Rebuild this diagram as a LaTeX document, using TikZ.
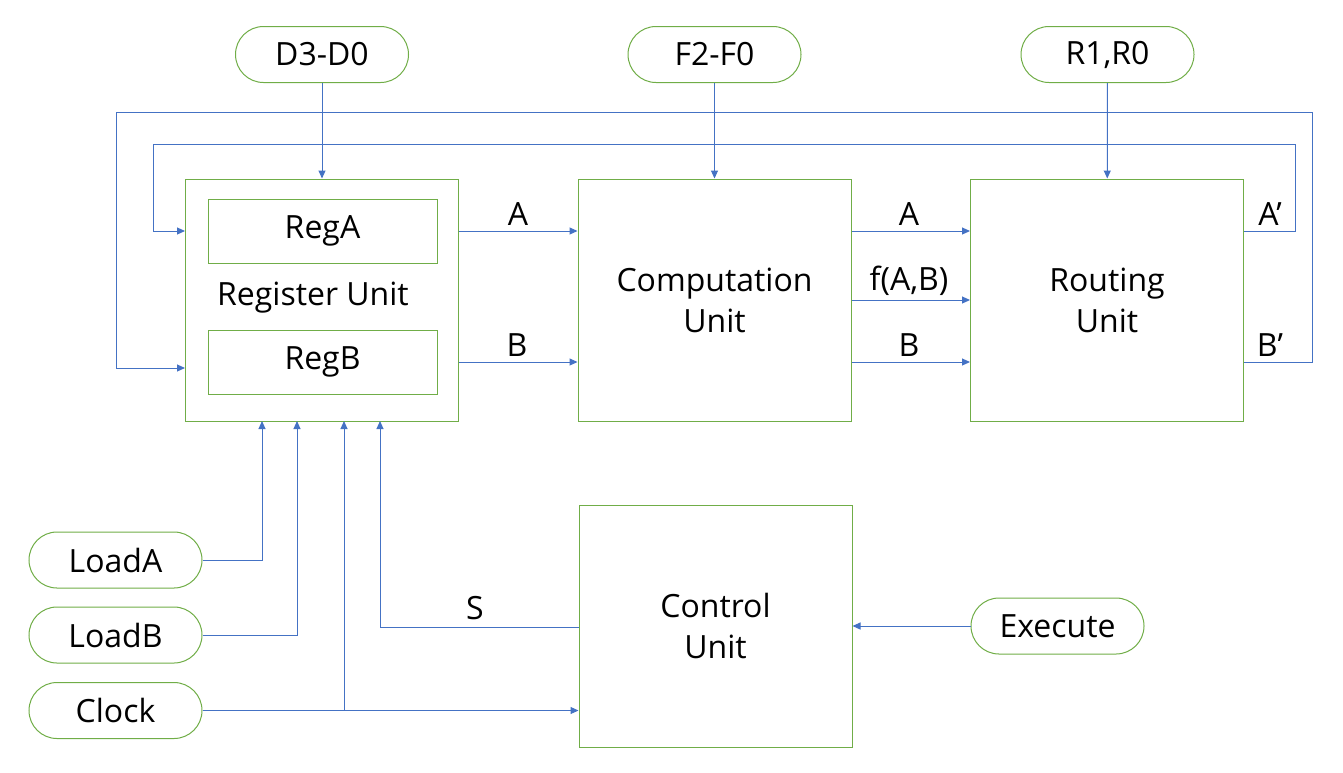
\documentclass[tikz,border=0pt]{standalone}
\usepackage{fontspec}
\setmainfont{Open Sans}
\usetikzlibrary{arrows.meta}
\definecolor{boxgreen}{HTML}{70AD47}
\definecolor{lineblue}{HTML}{4472C4}
\tikzset{
  unitbox/.style={draw=boxgreen, line width=1pt, minimum width=273pt, minimum height=242pt, inner sep=0pt, align=center, font=\fontsize{32}{41}\selectfont},
  regbox/.style={draw=boxgreen, line width=1pt, minimum width=229pt, minimum height=64pt, inner sep=0pt, font=\fontsize{32}{36}\selectfont},
  pill/.style={draw=boxgreen, line width=1pt, rounded corners=28pt, minimum width=173pt, minimum height=56pt, inner sep=0pt, font=\fontsize{32}{36}\selectfont},
  lbl/.style={inner sep=0pt, font=\fontsize{32}{36}\selectfont},
  arr/.style={draw=lineblue, line width=1pt, -{Triangle[length=8pt,width=7pt]}},
}
\begin{document}
\begin{tikzpicture}[x=1pt,y=-1pt]
\useasboundingbox (0,0) rectangle (1343,772);
% units
\node[unitbox] (reg) at (322,300) {};
\node[regbox] (rega) at (322.5,231) {RegA};
\node[regbox] (regb) at (322.5,362) {RegB};
\node[lbl] (regt) at (313,298) {Register Unit};
\node[unitbox] (comp) at (714.5,300) {Computation\\Unit};
\node[unitbox] (rout) at (1107,300) {Routing\\Unit};
\node[unitbox] (ctrl) at (715.5,626) {Control\\Unit};
% inputs
\node[pill] (d) at (322,54.5) {D3-D0};
\node[pill] (f) at (714.5,54.5) {F2-F0};
\node[pill] (r) at (1107.5,54.5) {R1,R0};
\node[pill] (la) at (115.5,560) {LoadA};
\node[pill] (lb) at (115.5,635) {LoadB};
\node[pill] (clk) at (115.5,710.5) {Clock};
\node[pill] (ex) at (1057.5,626) {Execute};
% helper coordinates (bends and free ends)
\coordinate (r1) at (262,421);
\coordinate (r2) at (297,421);
\coordinate (r3) at (344,421);
\coordinate (r4) at (380,421);
\coordinate (cj) at (344,710.5);
\coordinate (fin) at (185,368);
\coordinate (ys) at (0,627);
\coordinate (a1) at (1295,144);
\coordinate (a2) at (153,144);
\coordinate (b1) at (1312,112);
\coordinate (b2) at (116,112);
% top inputs
\draw[arr] (d) -- (reg);
\draw[arr] (f) -- (comp);
\draw[arr] (r) -- (rout);
% data paths
\draw[arr] (reg.east |- rega) -- (comp.west |- rega);
\draw[arr] (reg.east |- regb) -- (comp.west |- regb);
\draw[arr] (comp.east |- rega) -- (rout.west |- rega);
\draw[arr] (comp.east) -- (rout.west);
\draw[arr] (comp.east |- regb) -- (rout.west |- regb);
% feedback
\draw[arr] (rout.east |- rega) -| (a1) -- (a2) |- (reg.west |- rega);
\draw[arr] (rout.east |- regb) -| (b1) -- (b2) |- (fin);
% bottom inputs
\draw[arr] (la.east) -| (r1);
\draw[arr] (lb.east) -| (r2);
\draw[arr] (clk.east) -- (ctrl.west |- clk.east);
\draw[arr] (cj) -- (r3);
\draw[arr] (ctrl.west |- ys) -| (r4);
\draw[arr] (ex.west) -- (ctrl.east |- ex.west);
% labels
\node[lbl] (la1) at (518,214) {A};
\node[lbl] (lb1) at (517,345) {B};
\node[lbl] (la2) at (909,214) {A};
\node[lbl] (lf) at (909,281) {f(A,B)};
\node[lbl] (lb2) at (909,345) {B};
\node[lbl] (la3) at (1270,214) {A’};
\node[lbl] (lb3) at (1270,345) {B’};
\node[lbl] (ls) at (475,608) {S};
\end{tikzpicture}
\end{document}
